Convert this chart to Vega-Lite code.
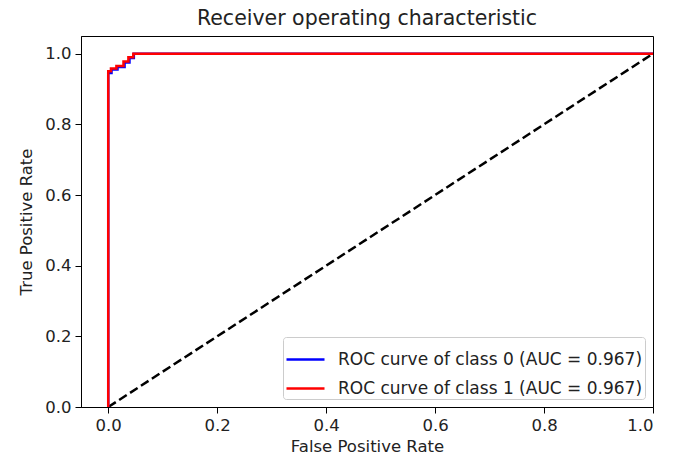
{
  "$schema": "https://vega.github.io/schema/vega-lite/v6.json",
  "width": 572,
  "height": 371,
  "autosize": {"type": "none"},
  "padding": {"left": 81, "top": 36, "right": 22, "bottom": 55},
  "background": "white",
  "config": {
    "font": "DejaVu Sans",
    "view": {"stroke": "black", "strokeWidth": 1},
    "axis": {"grid": false, "domainColor": "black", "tickColor": "black", "labelColor": "#222", "titleColor": "#222", "labelFontSize": 16.5, "titleFontSize": 16.5, "titleFontWeight": "normal", "tickSize": 6, "labelPadding": 4}
  },
  "title": {"text": "Receiver operating characteristic", "fontSize": 20.5, "fontWeight": "normal", "color": "#222", "offset": 7},
  "datasets": {
    "roc": [
      {"series": "ROC curve of class 0 (AUC = 0.967)", "i": 0, "fpr": 0.0, "tpr": 0.0},
      {"series": "ROC curve of class 0 (AUC = 0.967)", "i": 1, "fpr": 0.0, "tpr": 0.945},
      {"series": "ROC curve of class 0 (AUC = 0.967)", "i": 2, "fpr": 0.006, "tpr": 0.945},
      {"series": "ROC curve of class 0 (AUC = 0.967)", "i": 3, "fpr": 0.006, "tpr": 0.955},
      {"series": "ROC curve of class 0 (AUC = 0.967)", "i": 4, "fpr": 0.017, "tpr": 0.955},
      {"series": "ROC curve of class 0 (AUC = 0.967)", "i": 5, "fpr": 0.017, "tpr": 0.962},
      {"series": "ROC curve of class 0 (AUC = 0.967)", "i": 6, "fpr": 0.03, "tpr": 0.962},
      {"series": "ROC curve of class 0 (AUC = 0.967)", "i": 7, "fpr": 0.03, "tpr": 0.975},
      {"series": "ROC curve of class 0 (AUC = 0.967)", "i": 8, "fpr": 0.039, "tpr": 0.975},
      {"series": "ROC curve of class 0 (AUC = 0.967)", "i": 9, "fpr": 0.039, "tpr": 0.988},
      {"series": "ROC curve of class 0 (AUC = 0.967)", "i": 10, "fpr": 0.047, "tpr": 0.988},
      {"series": "ROC curve of class 0 (AUC = 0.967)", "i": 11, "fpr": 0.047, "tpr": 1.0},
      {"series": "ROC curve of class 0 (AUC = 0.967)", "i": 12, "fpr": 1.0, "tpr": 1.0},
      {"series": "ROC curve of class 1 (AUC = 0.967)", "i": 0, "fpr": 0.0, "tpr": 0.0},
      {"series": "ROC curve of class 1 (AUC = 0.967)", "i": 1, "fpr": 0.0, "tpr": 0.95},
      {"series": "ROC curve of class 1 (AUC = 0.967)", "i": 2, "fpr": 0.005, "tpr": 0.95},
      {"series": "ROC curve of class 1 (AUC = 0.967)", "i": 3, "fpr": 0.005, "tpr": 0.958},
      {"series": "ROC curve of class 1 (AUC = 0.967)", "i": 4, "fpr": 0.015, "tpr": 0.958},
      {"series": "ROC curve of class 1 (AUC = 0.967)", "i": 5, "fpr": 0.015, "tpr": 0.965},
      {"series": "ROC curve of class 1 (AUC = 0.967)", "i": 6, "fpr": 0.028, "tpr": 0.965},
      {"series": "ROC curve of class 1 (AUC = 0.967)", "i": 7, "fpr": 0.028, "tpr": 0.978},
      {"series": "ROC curve of class 1 (AUC = 0.967)", "i": 8, "fpr": 0.037, "tpr": 0.978},
      {"series": "ROC curve of class 1 (AUC = 0.967)", "i": 9, "fpr": 0.037, "tpr": 0.99},
      {"series": "ROC curve of class 1 (AUC = 0.967)", "i": 10, "fpr": 0.046, "tpr": 0.99},
      {"series": "ROC curve of class 1 (AUC = 0.967)", "i": 11, "fpr": 0.046, "tpr": 1.0},
      {"series": "ROC curve of class 1 (AUC = 0.967)", "i": 12, "fpr": 1.0, "tpr": 1.0}
    ],
    "diag": [
      {"fpr": 0.0, "tpr": 0.0},
      {"fpr": 1.0, "tpr": 1.0}
    ]
  },
  "layer": [
    {
      "data": {"name": "diag"},
      "mark": {"type": "line", "color": "black", "strokeWidth": 2.5, "strokeDash": [9, 4], "clip": true},
      "encoding": {
        "x": {"field": "fpr", "type": "quantitative", "scale": {"domain": [-0.05, 1.0], "nice": false, "zero": false}, "axis": {"values": [0, 0.2, 0.4, 0.6, 0.8, 1.0], "format": ".1f", "title": "False Positive Rate", "titlePadding": 5}},
        "y": {"field": "tpr", "type": "quantitative", "scale": {"domain": [0, 1.05], "nice": false}, "axis": {"values": [0, 0.2, 0.4, 0.6, 0.8, 1.0], "format": ".1f", "title": "True Positive Rate", "titlePadding": 10}}
      }
    },
    {
      "data": {"name": "roc"},
      "mark": {"type": "line", "strokeWidth": 2.5, "clip": true},
      "encoding": {
        "x": {"field": "fpr", "type": "quantitative"},
        "y": {"field": "tpr", "type": "quantitative"},
        "order": {"field": "i", "type": "quantitative"},
        "color": {
          "field": "series",
          "type": "nominal",
          "scale": {"domain": ["ROC curve of class 0 (AUC = 0.967)", "ROC curve of class 1 (AUC = 0.967)"], "range": ["#0000ff", "#ff0000"]},
          "legend": {
            "title": null,
            "orient": "bottom-right",
            "offset": 8,
            "fillColor": "white",
            "strokeColor": "#cccccc",
            "cornerRadius": 3,
            "padding": 2,
            "symbolType": "stroke",
            "symbolSize": 1444,
            "symbolStrokeWidth": 2.5,
            "labelFontSize": 17,
            "labelLimit": 0,
            "labelColor": "#222",
            "rowPadding": -2,
            "labelOffset": 12
          }
        }
      }
    }
  ]
}
